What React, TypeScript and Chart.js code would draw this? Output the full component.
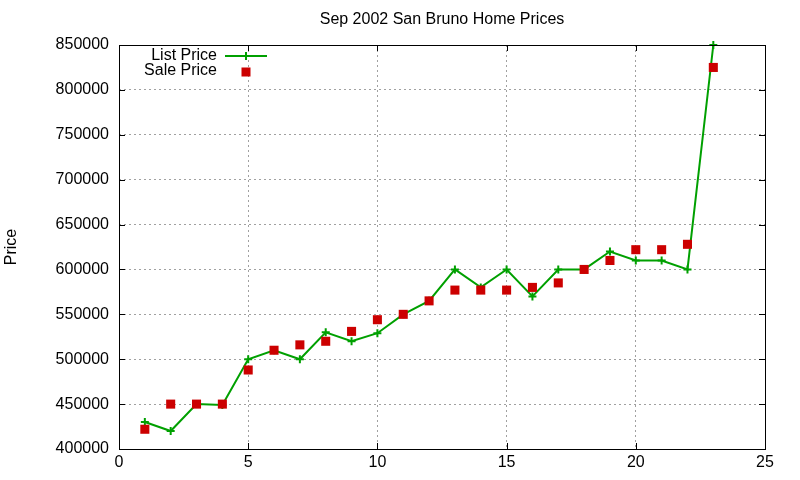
import React, { useEffect, useRef } from 'react';
import { Chart, registerables } from 'chart.js';

Chart.register(...registerables);

const houseIndex = [1, 2, 3, 4, 5, 6, 7, 8, 9, 10, 11, 12, 13, 14, 15, 16, 17, 18, 19, 20, 21, 22, 23];
const listPrices = [
  430000, 420000, 450000, 449000, 500000, 510000, 500000, 530000, 520000, 529000, 550000, 565000,
  600000, 580000, 600000, 570000, 600000, 600000, 620000, 610000, 610000, 600000, 850000,
];
const salePrices = [
  422000, 450000, 450000, 450000, 488000, 510000, 516000, 520000, 531000, 544000, 550000, 565000,
  577000, 577000, 577000, 580000, 585000, 600000, 610000, 622000, 622000, 628000, 825000,
];
const chartTitle = 'Sep 2002 San Bruno Home Prices';
const yAxisLabel = 'Price';
const seriesNames = ['List Price', 'Sale Price'];

const GREEN = '#00a000';
const RED = '#cc0000';
const FONT = '"Liberation Sans", Arial, sans-serif';

// border box, mirrored inward ticks, title, y label and the in-plot key
const gnuplotFrame = {
  id: 'gnuplotFrame',
  afterDraw(chart: Chart) {
    const { ctx, chartArea: a, scales } = chart;
    const x = scales.x;
    const y = scales.y;
    ctx.save();
    ctx.strokeStyle = '#000';
    ctx.lineWidth = 1;
    ctx.strokeRect(a.left + 0.5, a.top + 0.5, a.right - a.left, a.bottom - a.top);
    ctx.beginPath();
    const tl = 6;
    y.ticks.forEach((t) => {
      const py = Math.round(y.getPixelForValue(t.value)) + 0.5;
      ctx.moveTo(a.left, py);
      ctx.lineTo(a.left + tl, py);
      ctx.moveTo(a.right, py);
      ctx.lineTo(a.right - tl, py);
    });
    x.ticks.forEach((t) => {
      const px = Math.round(x.getPixelForValue(t.value)) + 0.5;
      ctx.moveTo(px, a.bottom);
      ctx.lineTo(px, a.bottom - tl);
      ctx.moveTo(px, a.top);
      ctx.lineTo(px, a.top + tl);
    });
    ctx.stroke();

    ctx.fillStyle = '#000';
    ctx.font = `16px ${FONT}`;
    ctx.textAlign = 'center';
    ctx.textBaseline = 'middle';
    ctx.fillText(chartTitle, (a.left + a.right) / 2, 20);

    ctx.save();
    ctx.translate(12, (a.top + a.bottom) / 2);
    ctx.rotate(-Math.PI / 2);
    ctx.fillText(yAxisLabel, 0, 0);
    ctx.restore();

    // key
    const textRight = 217;
    const sampleMid = 246;
    const row1 = 55;
    const row2 = 71;
    ctx.textAlign = 'right';
    ctx.fillText(seriesNames[0], textRight, row1 + 1);
    ctx.fillText(seriesNames[1], textRight, row2);

    ctx.strokeStyle = GREEN;
    ctx.lineWidth = 2;
    ctx.beginPath();
    ctx.moveTo(225, row1 + 1);
    ctx.lineTo(267, row1 + 1);
    ctx.moveTo(sampleMid - 4, row1 + 1);
    ctx.lineTo(sampleMid + 4, row1 + 1);
    ctx.moveTo(sampleMid, row1 - 3);
    ctx.lineTo(sampleMid, row1 + 5);
    ctx.stroke();

    ctx.fillStyle = RED;
    ctx.fillRect(sampleMid - 4.5, row2 - 3.5, 9, 9);
    ctx.restore();
  },
};

export default function App() {
  const chartRef = useRef<HTMLCanvasElement>(null);

  useEffect(() => {
    if (!chartRef.current) return;
    const ctx = chartRef.current.getContext('2d');
    if (!ctx) return;

    const chart = new Chart(ctx, {
      type: 'scatter',
      data: {
        datasets: [
          {
            label: seriesNames[0],
            data: houseIndex.map((h, i) => ({ x: h, y: listPrices[i] })),
            showLine: true,
            borderColor: GREEN,
            backgroundColor: GREEN,
            borderWidth: 2,
            pointStyle: 'cross',
            pointRadius: 4,
            pointBorderWidth: 2,
            pointBorderColor: GREEN,
            clip: false,
            order: 2,
          },
          {
            label: seriesNames[1],
            data: houseIndex.map((h, i) => ({ x: h, y: salePrices[i] })),
            showLine: false,
            borderColor: RED,
            backgroundColor: RED,
            pointStyle: 'rect',
            pointRadius: 6.4,
            pointBorderWidth: 0,
            clip: false,
            order: 1,
          },
        ],
      },
      options: {
        responsive: false,
        animation: false,
        layout: { padding: { top: 45, right: 35, bottom: 0, left: 0 } },
        plugins: {
          legend: { display: false },
          title: { display: false },
          tooltip: { enabled: false },
        },
        scales: {
          x: {
            type: 'linear',
            min: 0,
            max: 25,
            afterFit: (scale: any) => {
              scale.height = 31;
            },
            ticks: {
              stepSize: 5,
              color: '#000',
              padding: 4,
              font: { family: FONT, size: 16 },
            },
            grid: { color: '#a0a0a0', drawTicks: false },
            border: { display: false, dash: [2, 3] },
          },
          y: {
            min: 400000,
            max: 850000,
            afterFit: (scale: any) => {
              scale.width = 119;
            },
            ticks: {
              stepSize: 50000,
              color: '#000',
              padding: 10,
              font: { family: FONT, size: 16 },
              callback: (v: any) => String(v),
            },
            grid: { color: '#a0a0a0', drawTicks: false },
            border: { display: false, dash: [2, 3] },
          },
        },
      },
      plugins: [gnuplotFrame],
    });

    return () => {
      chart.destroy();
    };
  }, []);

  return (
    <div style={{ width: 800, height: 480, background: '#fff' }}>
      <style>{'body{margin:0}'}</style>
      <canvas ref={chartRef} width={800} height={480} />
    </div>
  );
}
